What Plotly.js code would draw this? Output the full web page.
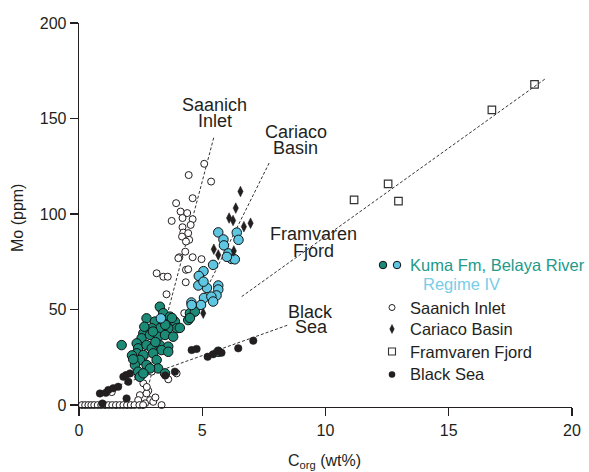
<!DOCTYPE html>
<html>
<head>
<meta charset="utf-8">
<script src="https://cdn.plot.ly/plotly-3.0.1.min.js"></script>
<style>html,body{margin:0;padding:0;background:#fff;}#chart{width:589px;height:472px;}</style>
</head>
<body>
<div id="chart"></div>
<script>
// ---- Data ----
const kumaX = [3.28,3.42,2.74,3.08,3.69,3.89,3.96,3.62,3.28,2.95,2.61,2.54,2.34,2.88,3.21,3.49,3.82,1.73,2.40,2.74,2.95,3.28,3.62,3.35,2.34,2.61,3.01,3.62,2.47,3.15,2.27,2.74,2.40,3.21,2.47,4.50,4.43,4.70,3.49,2.88,2.61,3.77,4.09,5.65,4.50,2.15,2.65,3.50,3.10,2.20,3.00];
const kumaY = [51.5,48.1,45.4,43.7,46.3,43.7,40.2,40.2,40.2,40.2,37.6,35.0,32.3,36.7,35.8,36.7,35.8,31.4,29.7,31.4,29.7,31.4,30.6,28.8,27.1,26.2,27.1,27.9,23.6,23.6,21.0,21.0,17.5,19.2,14.8,48.1,44.5,48.9,16.6,19.2,16.6,45.6,40.4,27.9,45.6,26.0,41.0,42.0,33.0,24.0,38.5];

const regX = [5.65,5.86,6.40,6.47,5.88,6.06,6.19,6.32,6.00,5.44,5.05,4.86,5.65,5.65,5.58,5.19,4.84,5.05,5.07,5.37,5.44,4.95,4.56,4.57,3.32];
const regY = [90.4,86.7,90.3,86.5,83.6,79.4,76.5,76.3,77.6,73.4,70.1,67.6,62.6,60.5,57.4,61.3,62.6,64.6,56.1,56.8,54.2,52.4,53.7,52.4,45.4];

const saanX = [5.08,4.45,5.36,4.61,3.94,4.12,4.39,4.20,3.76,4.61,4.53,4.20,4.23,4.43,4.18,4.47,4.34,4.31,4.07,4.61,4.97,4.03,4.34,4.43,3.15,3.42,3.60,4.33,3.55,3.28,4.27,3.11,3.66,2.88,2.95,2.40,3.62,3.96,1.33,2.81,2.47,2.40,2.88,2.68,3.01,2.61,2.74,2.75,3.10,
  0.12,0.25,0.38,0.50,0.62,0.76,0.90,1.05,1.20,1.35,1.50,1.65,1.80,1.95,2.10,2.25,2.45,2.60,3.35];
const saanY = [126.3,120.4,117.0,108.3,105.7,101.3,100.5,97.9,96.4,97.3,94.3,93.1,90.3,90.0,88.2,86.5,85.6,80.3,77.4,77.4,76.4,76.9,70.8,71.1,69.0,67.2,67.2,64.3,58.0,50.7,48.1,36.7,36.7,23.6,17.5,14.8,13.5,16.6,6.8,7.5,5.2,2.6,2.6,0.9,1.7,11.4,6.1,9.5,4.0,
  0,0,0,0,0,0,0,0,0,0,0,0,0,0,0,0,0,0,0];

const cariX = [6.55,6.36,6.09,6.25,6.69,6.96,5.47,5.65,6.28,5.04];
const cariY = [111.8,103.1,97.9,96.6,93.4,95.2,81.6,78.6,80.7,48.1];

const framX = [11.16,12.54,12.96,16.75,18.48];
const framY = [107.4,115.8,106.8,154.5,167.9];

const bsX = [0.95,0.85,1.09,1.19,1.39,1.59,1.80,1.91,2.07,2.00,1.93,3.50,3.89,4.57,4.77,5.22,5.44,5.65,5.78,6.46,7.07];
const bsY = [0.8,6.1,6.4,7.9,8.8,9.6,14.8,15.7,16.6,12.2,3.5,15.5,17.5,28.8,29.4,25.3,26.6,28.3,27.4,29.7,33.7];

// trend lines (endpoints)
const saanLineX = [2.75,5.47], saanLineY = [6.8,140.2];
const cariLineX = [4.95,7.74], cariLineY = [55.0,127.4];
const framLineX = [6.6,18.96], framLineY = [56.8,171.2];
const bsLineX = [0.69,8.5],  bsLineY = [6.1,42.0];

const xTicks = [0,5,10,15,20];
const yTicks = [0,50,100,150,200];

// ---- Styling ----
const FONT = 'Liberation Sans, Arial, Helvetica, sans-serif';
const INK = '#231f20';
const TEAL = '#1b8a77';
const LBLUE = '#5ec6e1';
const TEAL_TXT = '#23998a';
const LBLUE_TXT = '#78cde8';

// pixel -> paper helpers (plot area: x 79..572, y 23..407)
const L=79, R=572, T=23, B=407;
const px = v => (v-L)/(R-L);
const py = v => (B-v)/(B-T);

function dashLine(x,y){
  return {x:x,y:y,type:'scatter',mode:'lines',line:{color:'#333',width:1,dash:'3px,2px'},hoverinfo:'skip',showlegend:false};
}

const traces = [
  dashLine(saanLineX,saanLineY),
  dashLine(cariLineX,cariLineY),
  dashLine(framLineX,framLineY),
  dashLine(bsLineX,bsLineY),
  {x:saanX,y:saanY,type:'scatter',mode:'markers',cliponaxis:false,
   marker:{symbol:'circle',size:7,color:'#fff',line:{color:INK,width:1}}},
  {x:kumaX,y:kumaY,type:'scatter',mode:'markers',cliponaxis:false,
   marker:{symbol:'circle',size:9.5,color:TEAL,line:{color:'#111',width:1}}},
  {x:regX,y:regY,type:'scatter',mode:'markers',cliponaxis:false,
   marker:{symbol:'circle',size:9.5,color:LBLUE,line:{color:'#111',width:1}}},
  {x:cariX,y:cariY,type:'scatter',mode:'markers',
   marker:{symbol:'diamond-tall',size:7.5,color:INK,line:{color:INK,width:0.6}}},
  {x:framX,y:framY,type:'scatter',mode:'markers',
   marker:{symbol:'square-open',size:7.5,color:'#333',line:{width:1.2}}},
  {x:bsX,y:bsY,type:'scatter',mode:'markers',cliponaxis:false,
   marker:{symbol:'circle',size:7.5,color:INK,line:{color:INK,width:0.5}}},
  // legend keys on a hidden overlay axis (paper-like 0..1)
  {x:[px(383)],y:[py(265)],xaxis:'x2',yaxis:'y2',type:'scatter',mode:'markers',cliponaxis:false,
   marker:{symbol:'circle',size:7.5,color:TEAL,line:{color:'#111',width:1}}},
  {x:[px(397)],y:[py(265)],xaxis:'x2',yaxis:'y2',type:'scatter',mode:'markers',cliponaxis:false,
   marker:{symbol:'circle',size:7.5,color:LBLUE,line:{color:'#111',width:1}}},
  {x:[px(392)],y:[py(307.5)],xaxis:'x2',yaxis:'y2',type:'scatter',mode:'markers',cliponaxis:false,
   marker:{symbol:'circle',size:6,color:'#fff',line:{color:INK,width:1}}},
  {x:[px(392)],y:[py(329)],xaxis:'x2',yaxis:'y2',type:'scatter',mode:'markers',cliponaxis:false,
   marker:{symbol:'diamond-tall',size:6.5,color:INK,line:{color:INK,width:0.5}}},
  {x:[px(392)],y:[py(351.5)],xaxis:'x2',yaxis:'y2',type:'scatter',mode:'markers',cliponaxis:false,
   marker:{symbol:'square-open',size:7,color:'#333',line:{width:1.1}}},
  {x:[px(392)],y:[py(374.5)],xaxis:'x2',yaxis:'y2',type:'scatter',mode:'markers',cliponaxis:false,
   marker:{symbol:'circle',size:6.5,color:INK}}
];

function lbl(text,cx,cy,opts){
  return Object.assign({xref:'paper',yref:'paper',x:px(cx),y:py(cy),text:text,showarrow:false,
    xanchor:'center',yanchor:'middle',font:{family:FONT,size:18,color:INK}},opts||{});
}
function leg(text,lx,cy,color){
  return {xref:'paper',yref:'paper',x:px(lx),y:py(cy),text:text,showarrow:false,
    xanchor:'left',yanchor:'middle',borderpad:0,font:{family:FONT,size:16.5,color:color||INK}};
}

const annotations = [
  lbl('Saanich',214,105), lbl('Inlet',214.5,121.5),
  lbl('Cariaco',296,131.7), lbl('Basin',295.5,148.3),
  lbl('Framvaren',313,234), lbl('Fjord',313,250.5),
  lbl('Black',310,311.7), lbl('Sea',311,327),
  leg('Kuma Fm, Belaya River',409,265,TEAL_TXT),
  leg('Regime IV',422,283.5,LBLUE_TXT),
  leg('Saanich Inlet',409,307.7),
  leg('Cariaco Basin',409,329.3),
  leg('Framvaren Fjord',409,351.7),
  leg('Black Sea',409,374.3),
  // axis titles
  {xref:'paper',yref:'paper',x:px(17),y:py(218),text:'Mo (ppm)',textangle:-90,showarrow:false,
   xanchor:'center',yanchor:'middle',font:{family:FONT,size:16,color:INK}},
  {xref:'paper',yref:'paper',x:px(324),y:py(461),text:'C<sub>org</sub> (wt%)',showarrow:false,
   xanchor:'center',yanchor:'middle',font:{family:FONT,size:16,color:INK}}
];

const layout = {
  width:589,height:472,
  margin:{l:L,r:589-R,t:T,b:472-B},
  paper_bgcolor:'#fff',plot_bgcolor:'#fff',
  showlegend:false,
  font:{family:FONT,color:INK},
  xaxis:{range:[0,20],tickvals:xTicks,ticktext:xTicks.map(String),ticks:'outside',ticklen:8,tickwidth:1.3,tickcolor:INK,
    showline:true,linecolor:INK,linewidth:1.3,showgrid:false,zeroline:false,
    tickfont:{family:FONT,size:16,color:INK},fixedrange:true},
  yaxis:{range:[-1,200],tickvals:yTicks,ticktext:yTicks.map(String),ticks:'outside',ticklen:8,tickwidth:1.3,tickcolor:INK,
    showline:true,linecolor:INK,linewidth:1.3,showgrid:false,zeroline:false,
    tickfont:{family:FONT,size:16,color:INK},fixedrange:true},
  xaxis2:{overlaying:'x',range:[0,1],visible:false,fixedrange:true},
  yaxis2:{overlaying:'y',range:[0,1],visible:false,fixedrange:true},
  annotations:annotations
};

Plotly.newPlot('chart',traces,layout,{staticPlot:true,displayModeBar:false});
</script>
</body>
</html>
